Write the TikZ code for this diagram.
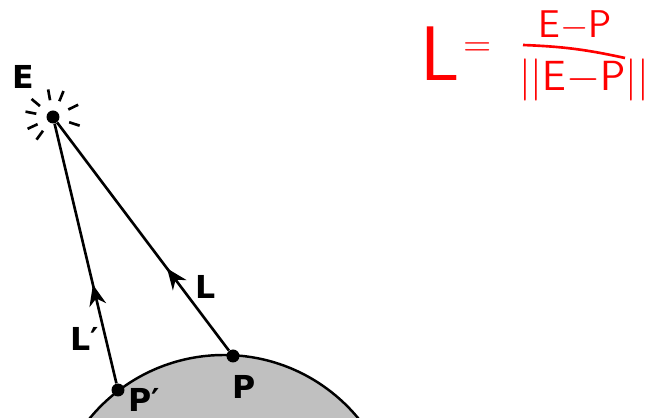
\documentclass[tikz,border=0pt]{standalone}
\usepackage{fontspec}
\setmainfont{DejaVu Sans}
\usetikzlibrary{arrows.meta,positioning,calc,decorations.markings}
\definecolor{ink}{HTML}{000000}
\definecolor{surf}{HTML}{C0C0C0}
\definecolor{pen}{HTML}{FF0000}
\tikzset{
  ray/.style={line width=1.5pt,draw=ink},
  midarrow/.style={postaction={decorate,decoration={markings,
    mark=at position #1 with {\arrow{Stealth[length=4.2mm,width=3.4mm]}}}}},
  pt/.style={circle,fill=ink,minimum size=2.6mm,inner sep=0pt},
  lbl/.style={font=\fontsize{18}{20}\selectfont\bfseries,text=ink,inner sep=0pt},
  hand/.style={font=\sffamily\fontsize{#1}{#1}\selectfont,text=pen,inner sep=0pt},
  spark/.style={line width=1.5pt,draw=ink},
  surface/.style={fill=surf,draw=ink,line width=1.4pt},
}

\begin{document}
\begin{tikzpicture}[x=0.02cm,y=-0.02cm]
  \useasboundingbox (0,0) rectangle (650,418);
  \clip (0,0) rectangle (650,418);
  % surface
  \filldraw[surface] (224,529) circle (174);
  \node[pt] (E) at (53,117) {};
  \node[pt] (P) at (233,356) {};
  \node[pt] (Pp) at (118,390) {};
  \foreach \a in {-100,-68,-140,-26,-169,18,155,126}
    \draw[spark] ($(E)+(\a:17)$) -- ($(E)+(\a:28)$);
  \draw[ray,midarrow=0.38] (Pp) -- (E);
  \draw[ray,midarrow=0.36] (P) -- (E);
  \node[lbl] (labE) at (23,77) {E};
  \node[lbl] (labL) at (206,287) {L};
  \node[lbl] (labLp) at (85,339) {L′};
  \node[lbl] (labP) at (244,387) {P};
  \node[lbl] (labPp) at (144,400) {P′};
  % handwritten note
  \node[hand=44] (lhs) at (440,54) {L};
  \node[hand=22] (eq) at (478,50) {=};
  \node[hand=22] (num) at (575,26) {E$-$P};
  \node[hand=24] (den) at (584,80) {||E$-$P||};
  \draw[pen,line width=1.5pt] (523,45) to[bend left=5] (625,58);
\end{tikzpicture}
\end{document}
